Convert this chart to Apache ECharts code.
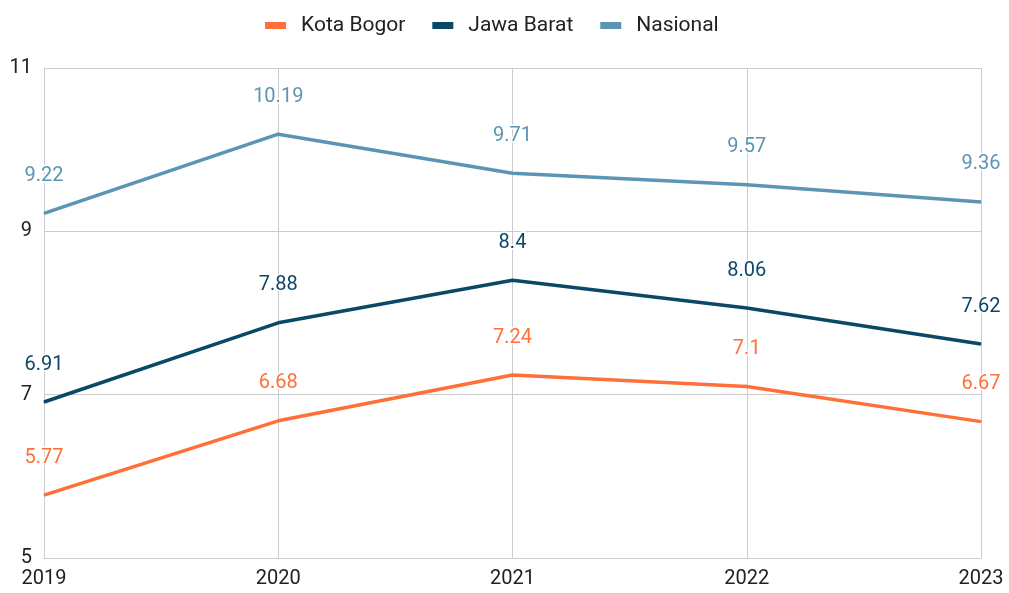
<!DOCTYPE html>
<html>
<head>
<meta charset="utf-8">
<script src="https://cdn.jsdelivr.net/npm/echarts@6/dist/echarts.min.js"></script>
<style>html,body{margin:0;padding:0;background:#fff;}#c{width:1009px;height:593px;}</style>
</head>
<body>
<div id="c"></div>
<script>
const categories = ['2019', '2020', '2021', '2022', '2023'];
const kotaBogor = [5.77, 6.68, 7.24, 7.1, 6.67];
const jawaBarat = [6.91, 7.88, 8.4, 8.06, 7.62];
const nasional = [9.22, 10.19, 9.71, 9.57, 9.36];
const seriesNames = ['Kota Bogor', 'Jawa Barat', 'Nasional'];
const colors = ['#FF6F37', '#0B4866', '#5B95B3'];

const font = 'Roboto, "Noto Sans", sans-serif';
function mk(name, data, color) {
  return {
    name: name, type: 'line', data: data,
    symbol: 'circle', symbolSize: 1, showSymbol: true,
    itemStyle: { color: color },
    lineStyle: { color: color, width: 3.5 },
    label: {
      show: true, position: 'top', distance: 27,
      color: color, fontSize: 20, fontFamily: font,
      textBorderColor: '#fff', textBorderWidth: 3
    },
    emphasis: { disabled: true }
  };
}
const chart = echarts.init(document.getElementById('c'));
chart.setOption({
  animation: false,
  color: colors,
  textStyle: { fontFamily: font },
  legend: {
    top: 10, left: 260, itemWidth: 21, itemHeight: 7, itemGap: 27,
    icon: 'rect',
    data: seriesNames,
    textStyle: { fontSize: 21, color: '#222', fontFamily: font, padding: [0, 0, 0, 10] }
  },
  grid: { left: 44, right: 28, top: 68, bottom: 35, containLabel: false },
  xAxis: {
    type: 'category', data: categories, boundaryGap: false,
    axisLine: { lineStyle: { color: '#ccc', width: 1 } },
    axisTick: { show: false },
    axisLabel: { color: '#222', fontSize: 20, margin: 11, fontFamily: font },
    splitLine: { show: true, lineStyle: { color: '#ccc', width: 1 } }
  },
  yAxis: {
    type: 'value', min: 5, max: 11, interval: 2,
    axisLine: { show: true, lineStyle: { color: '#ccc' } },
    axisTick: { show: false },
    axisLabel: { color: '#222', fontSize: 20, margin: 12, fontFamily: font },
    splitLine: { show: true, lineStyle: { color: '#ccc', width: 1 } }
  },
  series: [
    mk(seriesNames[0], kotaBogor, colors[0]),
    mk(seriesNames[1], jawaBarat, colors[1]),
    mk(seriesNames[2], nasional, colors[2])
  ]
});
</script>
</body>
</html>
